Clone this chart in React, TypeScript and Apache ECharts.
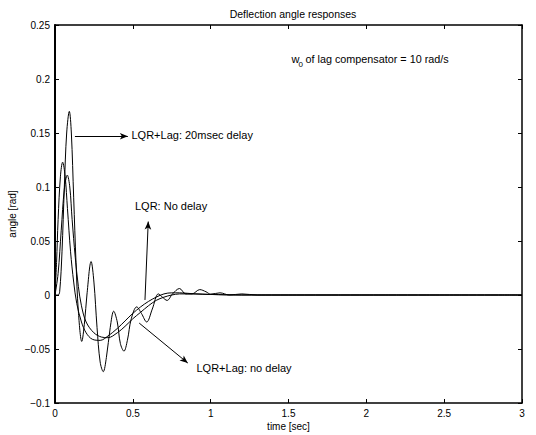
import React, { useEffect, useRef } from "react";
import * as echarts from "echarts";

// Curve: LQR+Lag with 20 msec delay (strongly oscillating)
const timeDelay20 = [0, 0.02, 0.03, 0.045, 0.06, 0.075, 0.092, 0.105, 0.12, 0.135, 0.15, 0.172, 0.19, 0.205, 0.232, 0.25, 0.27, 0.29, 0.31, 0.33, 0.355, 0.377, 0.4, 0.42, 0.443, 0.465, 0.49, 0.525, 0.555, 0.589, 0.625, 0.664, 0.69, 0.72, 0.755, 0.8, 0.84, 0.88, 0.93, 0.97, 1.0, 1.06, 1.12, 1.2, 1.3, 1.5, 3.0];
const angleDelay20 = [0, 0, 0.003, 0.04, 0.1, 0.15, 0.17, 0.15, 0.09, 0.03, -0.015, -0.043, -0.025, 0.0, 0.031, 0.012, -0.03, -0.062, -0.071, -0.058, -0.03, -0.015, -0.025, -0.045, -0.052, -0.042, -0.022, -0.011, -0.017, -0.025, -0.013, 0.001, -0.002, -0.005, 0.001, 0.006, 0.001, 0.001, 0.005, 0.003, 0.0008, 0.002, 0.0, 0.001, 0, 0, 0];

// Curve: peak 0.123 near 0.05 s
const timeNoDelay = [0, 0.01, 0.02, 0.035, 0.049, 0.065, 0.08, 0.1, 0.12, 0.14, 0.17, 0.2, 0.24, 0.29, 0.34, 0.4, 0.45, 0.5, 0.55, 0.6, 0.65, 0.7, 0.75, 0.8, 0.9, 1.0, 1.2, 3.0];
const angleNoDelay = [0, 0.03, 0.07, 0.11, 0.123, 0.11, 0.08, 0.04, 0.012, -0.008, -0.025, -0.035, -0.041, -0.042, -0.038, -0.031, -0.024, -0.017, -0.011, -0.006, -0.002, 0.001, 0.002, 0.002, 0.001, 0.0005, 0, 0];

// Curve: peak 0.111 near 0.08 s
const timeLagNoDelay = [0, 0.02, 0.04, 0.06, 0.079, 0.095, 0.11, 0.13, 0.15, 0.17, 0.2, 0.25, 0.3, 0.34, 0.4, 0.45, 0.5, 0.55, 0.6, 0.65, 0.7, 0.75, 0.8, 0.9, 1.0, 1.2, 3.0];
const angleLagNoDelay = [0, 0.02, 0.06, 0.098, 0.111, 0.1, 0.07, 0.035, 0.008, -0.01, -0.025, -0.035, -0.039, -0.0395, -0.035, -0.029, -0.022, -0.016, -0.01, -0.005, -0.002, 0.0, 0.001, 0.001, 0.0005, 0, 0];

const xTickLabels = ["0", "0.5", "1", "1.5", "2", "2.5", "3"];
const yTickLabels = ["\u22120.1", "\u22120.05", "0", "0.05", "0.1", "0.15", "0.2", "0.25"];

// Arrow annotations in data coordinates: [tStart, yStart, tEnd, yEnd]
const arrows = [
  [0.128, 0.147, 0.468, 0.147],
  [0.578, -0.0046, 0.599, 0.068],
  [0.541, -0.026, 0.853, -0.063],
];

const FONT = '"Liberation Sans", Arial, Helvetica, sans-serif';

function pairs(t: number[], v: number[]) {
  return t.map((x, i) => [x, v[i]]);
}

export default function App() {
  const ref = useRef<HTMLDivElement>(null);
  useEffect(() => {
    if (!ref.current) return;
    const chart = echarts.init(ref.current, undefined, { renderer: "svg" });
    const lineStyle = { color: "#000", width: 1 };
    const axisCommon = {
      type: "value" as const,
      splitLine: { show: false },
      axisTick: { show: true, inside: true, length: 4, lineStyle: { color: "#000", width: 1 } },
    };
    chart.setOption({
      animation: false,
      backgroundColor: "#fff",
      textStyle: { fontFamily: FONT },
      grid: { left: 55, right: 14, top: 25, bottom: 32, containLabel: false, outerBoundsMode: "none" },
      title: {
        text: "Deflection angle responses",
        left: 288,
        top: 3,
        textAlign: "center",
        textStyle: { fontSize: 10.5, fontWeight: "normal", color: "#000", fontFamily: FONT },
      },
      xAxis: [
        {
          ...axisCommon,
          position: "bottom",
          min: 0,
          max: 3,
          interval: 0.5,
          axisLine: { show: true, onZero: false, lineStyle: { color: "#000", width: 1.5 } },
          axisLabel: {
            color: "#000",
            fontSize: 10,
            fontFamily: FONT,
            margin: 5,
            formatter: (v: number) => xTickLabels[Math.round(v / 0.5)] ?? "",
          },
          name: "time [sec]",
          nameLocation: "middle",
          nameGap: 18,
          nameMoveOverlap: false,
          nameTextStyle: { color: "#000", fontSize: 10, fontFamily: FONT },
        },
        {
          ...axisCommon,
          position: "top",
          min: 0,
          max: 3,
          interval: 0.5,
          axisLine: { show: true, onZero: false, lineStyle: { color: "#000", width: 1.5 } },
          axisLabel: { show: false },
        },
      ],
      yAxis: [
        {
          ...axisCommon,
          position: "left",
          min: -0.1,
          max: 0.25,
          interval: 0.05,
          axisLine: { show: true, onZero: false, lineStyle: { color: "#000", width: 2 } },
          axisLabel: {
            color: "#000",
            fontSize: 10,
            fontFamily: FONT,
            margin: 5,
            formatter: (v: number) => yTickLabels[Math.round((v + 0.1) / 0.05)] ?? "",
          },
          name: "angle [rad]",
          nameLocation: "middle",
          nameGap: 38,
          nameMoveOverlap: false,
          nameTextStyle: { color: "#000", fontSize: 10, fontFamily: FONT },
        },
        {
          ...axisCommon,
          position: "right",
          min: -0.1,
          max: 0.25,
          interval: 0.05,
          axisLine: { show: true, onZero: false, lineStyle: { color: "#000", width: 1.5 } },
          axisLabel: { show: false },
        },
      ],
      series: [
        {
          type: "line",
          data: pairs(timeDelay20, angleDelay20),
          showSymbol: false,
          smooth: 0.35,
          lineStyle,
          z: 3,
          markLine: {
            silent: true,
            symbol: ["none", "arrow"],
            symbolSize: [5, 8],
            lineStyle: { color: "#000", width: 1, type: "solid" },
            label: { show: false },
            data: arrows.map((a) => [{ coord: [a[0], a[1]] }, { coord: [a[2], a[3]] }]),
          },
        },
        {
          type: "line",
          data: pairs(timeNoDelay, angleNoDelay),
          showSymbol: false,
          smooth: 0.35,
          lineStyle,
          z: 3,
        },
        {
          type: "line",
          data: pairs(timeLagNoDelay, angleLagNoDelay),
          showSymbol: false,
          smooth: 0.35,
          lineStyle,
          z: 3,
        },
      ],
      graphic: [
        {
          type: "text",
          x: 131.5,
          y: 135,
          style: { text: "LQR+Lag: 20msec delay", fill: "#000", fontSize: 11, fontFamily: FONT, verticalAlign: "middle" },
        },
        {
          type: "text",
          x: 135,
          y: 206,
          style: { text: "LQR: No delay", fill: "#000", fontSize: 11, fontFamily: FONT, verticalAlign: "middle" },
        },
        {
          type: "text",
          x: 196.5,
          y: 368,
          style: { text: "LQR+Lag: no delay", fill: "#000", fontSize: 11, fontFamily: FONT, verticalAlign: "middle" },
        },
        {
          type: "text",
          x: 291.5,
          y: 59,
          style: { text: "w", fill: "#000", fontSize: 11, fontFamily: FONT, verticalAlign: "middle" },
        },
        {
          type: "text",
          x: 298.5,
          y: 64.5,
          style: { text: "0", fill: "#000", fontSize: 8, fontFamily: FONT, verticalAlign: "middle" },
        },
        {
          type: "text",
          x: 305.5,
          y: 59,
          style: { text: "of lag compensator = 10 rad/s", fill: "#000", fontSize: 10.8, fontFamily: FONT, verticalAlign: "middle" },
        },
      ],
    });
    return () => chart.dispose();
  }, []);
  return (
    <div
      ref={ref}
      style={{ position: "absolute", left: 0, top: 0, width: 536, height: 435, background: "#fff" }}
    />
  );
}
